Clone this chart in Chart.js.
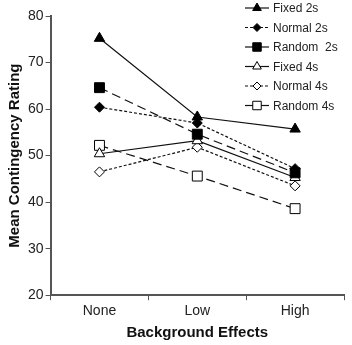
<!DOCTYPE html>
<html>
<head>
<meta charset="utf-8">
<script src="https://cdn.jsdelivr.net/npm/chart.js@4/dist/chart.umd.min.js"></script>
<style>
  html, body { margin: 0; padding: 0; background: #fff; }
  #wrap { width: 352px; height: 345px; }
</style>
</head>
<body>
<div id="wrap"><canvas id="chart" width="352" height="345"></canvas></div>
<script>
const categories = ['None', 'Low', 'High'];
const seriesNames = ['Fixed 2s', 'Normal 2s', 'Random  2s', 'Fixed 4s', 'Normal 4s', 'Random 4s'];
const fixed2s = [75.2, 58.3, 55.7];
const normal2s = [60.4, 57.0, 47.2];
const random2s = [64.6, 54.6, 46.3];
const fixed4s = [50.4, 53.2, 45.3];
const normal4s = [46.5, 51.8, 43.5];
const random4s = [52.2, 45.6, 38.6];
const yTicks = [20, 30, 40, 50, 60, 70, 80];

const styles = [
    { dash: [], shape: 'triangle', filled: true, r: 6 },
    { dash: [3, 2], shape: 'rectRot', filled: true, r: 5 },
    { dash: [9, 5], shape: 'rect', filled: true, r: 7 },
    { dash: [], shape: 'triangle', filled: false, r: 6 },
    { dash: [3, 2], shape: 'rectRot', filled: false, r: 5 },
    { dash: [9, 5], shape: 'rect', filled: false, r: 7 }
];
const values = [fixed2s, normal2s, random2s, fixed4s, normal4s, random4s];

const datasets = values.map((v, i) => ({
    label: seriesNames[i],
    data: v,
    borderColor: '#111',
    borderWidth: 1.2,
    borderDash: styles[i].dash,
    pointStyle: styles[i].shape,
    pointRadius: styles[i].r,
    pointHoverRadius: styles[i].r,
    pointBackgroundColor: styles[i].filled ? '#000' : '#fff',
    pointBorderColor: '#000',
    pointBorderWidth: 1,
    fill: false,
    tension: 0
}));

// legend drawn by hand: short line sample with the marker on it
const legendPlugin = {
    id: 'sideLegend',
    afterDraw(chart) {
        const ctx = chart.ctx;
        ctx.save();
        datasets.forEach((ds, i) => {
            const y = 8 + i * 19.5;
            ctx.strokeStyle = '#111';
            ctx.lineWidth = 1.2;
            ctx.setLineDash(i === 1 || i === 4 ? [3, 2] : []);
            ctx.beginPath();
            ctx.moveTo(245, y);
            ctx.lineTo(269, y);
            ctx.stroke();
            ctx.setLineDash([]);
            ctx.fillStyle = styles[i].filled ? '#000' : '#fff';
            ctx.strokeStyle = '#000';
            ctx.lineWidth = 1;
            Chart.helpers.drawPoint(ctx, {
                pointStyle: styles[i].shape,
                radius: styles[i].r - 1,
                rotation: 0,
                borderWidth: 1
            }, 257, y);
            ctx.fillStyle = '#222';
            ctx.font = '12px "Liberation Sans", Arial, sans-serif';
            ctx.textBaseline = 'middle';
            ctx.textAlign = 'left';
            ctx.fillText(ds.label, 273, y + 1);
        });
        ctx.restore();
    }
};

new Chart(document.getElementById('chart'), {
    type: 'line',
    data: { labels: categories, datasets: datasets },
    options: {
        responsive: false,
        animation: false,
        layout: { padding: { top: 16, right: -4, left: 2, bottom: 1 } },
        plugins: {
            legend: { display: false },
            tooltip: { enabled: false }
        },
        scales: {
            x: {
                offset: true,
                grid: { offset: true, drawOnChartArea: false, drawTicks: true, tickLength: 5, color: '#555' },
                border: { color: '#555', width: 2 },
                ticks: { color: '#222', font: { family: '"Liberation Sans", Arial', size: 14 }, padding: 3 },
                title: { display: true, text: 'Background Effects', color: '#111',
                    font: { family: '"Liberation Sans", Arial', size: 15, weight: 'bold' }, padding: { top: 1, bottom: 2 } }
            },
            y: {
                min: 20,
                max: 80,
                afterBuildTicks: axis => { axis.ticks = yTicks.map(v => ({ value: v })); },
                grid: { drawOnChartArea: false, drawTicks: true, tickLength: 5, color: '#555' },
                border: { color: '#555', width: 2 },
                ticks: { color: '#222', font: { family: '"Liberation Sans", Arial', size: 14 }, padding: 2 },
                title: { display: true, text: 'Mean Contingency Rating', color: '#111',
                    font: { family: '"Liberation Sans", Arial', size: 15, weight: 'bold' }, padding: { bottom: 2 } }
            }
        }
    },
    plugins: [legendPlugin]
});
</script>
</body>
</html>
